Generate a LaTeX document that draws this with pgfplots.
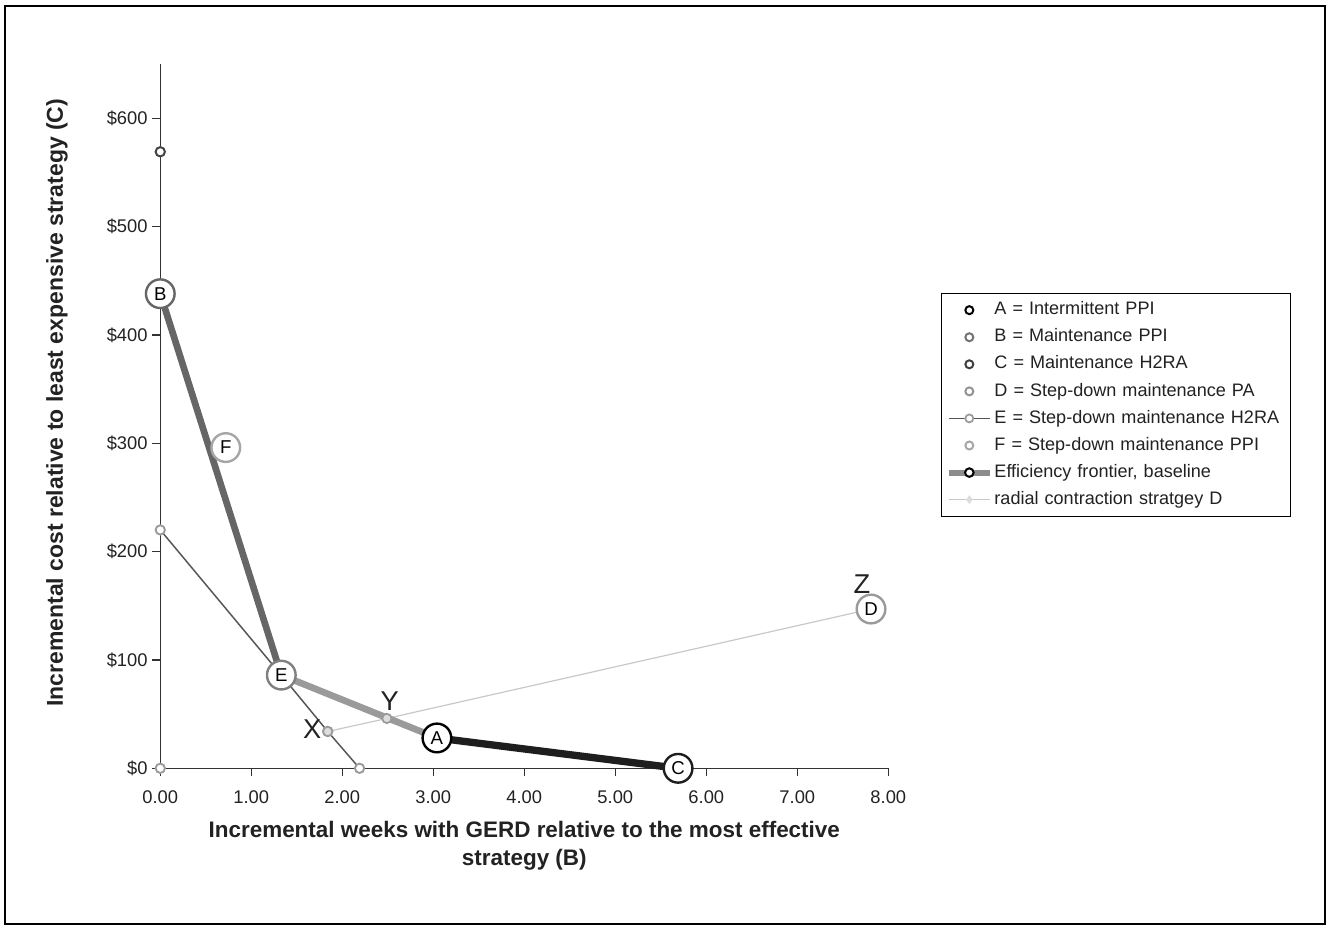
\documentclass[border=0pt]{standalone}
\usepackage{pgfplots}
\pgfplotsset{compat=1.18}
\usepackage{fontspec}
\setmainfont{Liberation Sans}

\definecolor{axisgray}{HTML}{333333}
\definecolor{textgray}{HTML}{222222}
\definecolor{fone}{HTML}{666666}
\definecolor{ftwo}{HTML}{9A9A9A}
\definecolor{fthree}{HTML}{1E1E1E}
\definecolor{egray}{HTML}{555555}
\definecolor{smallgray}{HTML}{9A9A9A}
\definecolor{radgray}{HTML}{C8C8C8}
\definecolor{xyfill}{HTML}{DDDDDD}
\definecolor{darkc}{HTML}{444444}

\pgfplotsset{
  bigc/.style 2 args={forget plot, only marks, mark=none,
    nodes near coords={#1},
    every node near coord/.append style={circle, draw=#2, fill=white,
      line width=1.8bp, minimum size=21.5bp, inner sep=0pt, anchor=center,
      text=black, font=\fontsize{14}{16}\selectfont}},
}

\begin{document}
\begin{tikzpicture}
\begin{axis}[
  at={(0,0)}, anchor=south west,
  scale only axis, width=546bp, height=528.2bp,
  xmin=0, xmax=8, ymin=0, ymax=650,
  axis x line=bottom, axis y line=left,
  axis line style={-, draw=axisgray, line width=1.1bp},
  xtick={0,1,...,8}, ytick={0,100,...,600},
  tick align=outside, major tick length=6bp,
  tick style={draw=axisgray, line width=1bp},
  clip=false,
  /pgf/number format/assume math mode=true,
  tick label style={font=\fontsize{13.8}{16}\selectfont, text=textgray},
  x tick label style={/pgf/number format/.cd, fixed, fixed zerofill, precision=2},
  xticklabel shift=7bp,
  yticklabel={\$\pgfmathprintnumber[fixed,precision=0]{\tick}},
  xlabel={Incremental weeks with GERD relative to the most effective\\strategy (B)},
  ylabel={Incremental cost relative to least expensive strategy (C)},
  every axis x label/.style={at={(axis description cs:0.5,-0.11)}, anchor=center,
    align=center, text=textgray, font=\bfseries\fontsize{16.9}{20.5}\selectfont},
  every axis y label/.style={at={(axis description cs:-0.142,0.519)}, anchor=center,
    rotate=90, text=textgray, font=\bfseries\fontsize{17.3}{20}\selectfont},
  legend image code/.code={\draw[mark repeat=2,mark phase=2,#1] plot coordinates {(0cm,0cm) (0.55cm,0cm) (1.1cm,0cm)};},
  legend style={at={(rel axis cs:1.0723,0.675)}, anchor=north west,
    draw=black, line width=0.9bp, fill=white,
    font=\fontsize{13.6}{16}\selectfont, text=textgray,
    cells={anchor=west}, row sep=5.3bp, inner xsep=3bp, inner ysep=5bp,
    nodes={inner sep=1bp, text height=10bp, text depth=3bp, text width=218bp, align=left}},
]
% legend entries
\addlegendimage{only marks, mark=o, mark size=3bp, color=black, line width=1.5bp}
\addlegendentry{A = Intermittent PPI}
\addlegendimage{only marks, mark=o, mark size=3bp, color=black!55, line width=1.5bp}
\addlegendentry{B = Maintenance PPI}
\addlegendimage{only marks, mark=o, mark size=3bp, color=black!75, line width=1.5bp}
\addlegendentry{C = Maintenance H2RA}
\addlegendimage{only marks, mark=o, mark size=3bp, color=black!42, line width=1.5bp}
\addlegendentry{D = Step-down maintenance PA}
\addlegendimage{color=egray, line width=1.3bp, mark=*, mark size=3bp, mark options={draw=smallgray, fill=white, line width=1.3bp}}
\addlegendentry{E = Step-down maintenance H2RA}
\addlegendimage{only marks, mark=o, mark size=3bp, color=black!35, line width=1.5bp}
\addlegendentry{F = Step-down maintenance PPI}
\addlegendimage{color=black!45, line width=4.5bp, mark=*, mark size=3.2bp, mark options={draw=black, fill=white, line width=1.5bp}}
\addlegendentry{Efficiency frontier, baseline}
\addlegendimage{color=radgray, line width=1bp, mark=diamond*, mark size=2.5bp, mark options={draw=xyfill, fill=xyfill}}
\addlegendentry{radial contraction stratgey D}

% step-down maintenance H2RA
\addplot[forget plot, color=egray, line width=1.1bp, mark=*, mark size=3.5bp,
  mark options={draw=smallgray, fill=white, line width=1.4bp}]
  coordinates {(0,220) (1.33,86) (1.84,34) (2.19,0)};
% radial contraction
\addplot[forget plot, color=radgray, line width=0.9bp, mark=*, mark size=3.5bp,
  mark options={draw=smallgray, fill=xyfill, line width=1.3bp}]
  coordinates {(1.84,34) (2.49,46) (7.81,147)};
% efficiency frontier
\addplot[forget plot, color=fone, line width=5bp] coordinates {(0,438) (1.33,86)};
\addplot[forget plot, color=ftwo, line width=5bp] coordinates {(1.33,86) (3.04,28)};
\addplot[forget plot, color=fthree, line width=5.5bp] coordinates {(3.04,28) (5.69,0)};
% small points on the y axis
\addplot[forget plot, only marks, mark=*, mark size=3.5bp,
  mark options={draw=smallgray, fill=white, line width=1.4bp}] coordinates {(0,0)};
\addplot[forget plot, only marks, mark=*, mark size=3.5bp,
  mark options={draw=darkc, fill=white, line width=1.5bp}] coordinates {(0,569)};
% strategies
\addplot[bigc={A}{black}] coordinates {(3.04,28)};
\addplot[bigc={B}{fone}] coordinates {(0,438)};
\addplot[bigc={C}{fthree}] coordinates {(5.69,0)};
\addplot[bigc={D}{smallgray}] coordinates {(7.81,147)};
\addplot[bigc={E}{black!50}] coordinates {(1.33,86)};
\addplot[bigc={F}{black!35}] coordinates {(0.72,296)};

\node[font=\fontsize{20.5}{22}\selectfont, text=textgray] at (axis cs:1.67,36) {X};
\node[font=\fontsize{20.5}{22}\selectfont, text=textgray] at (axis cs:2.52,62) {Y};
\node[font=\fontsize{20.5}{22}\selectfont, text=textgray] at (axis cs:7.71,170) {Z};
\end{axis}
\draw[line width=1.5bp] (-116.5bp,-116.8bp) rectangle (873.5bp,571.7bp);
\path (-120.2bp,-117.6bp) rectangle (875.0bp,576.2bp);
\end{tikzpicture}
\end{document}
